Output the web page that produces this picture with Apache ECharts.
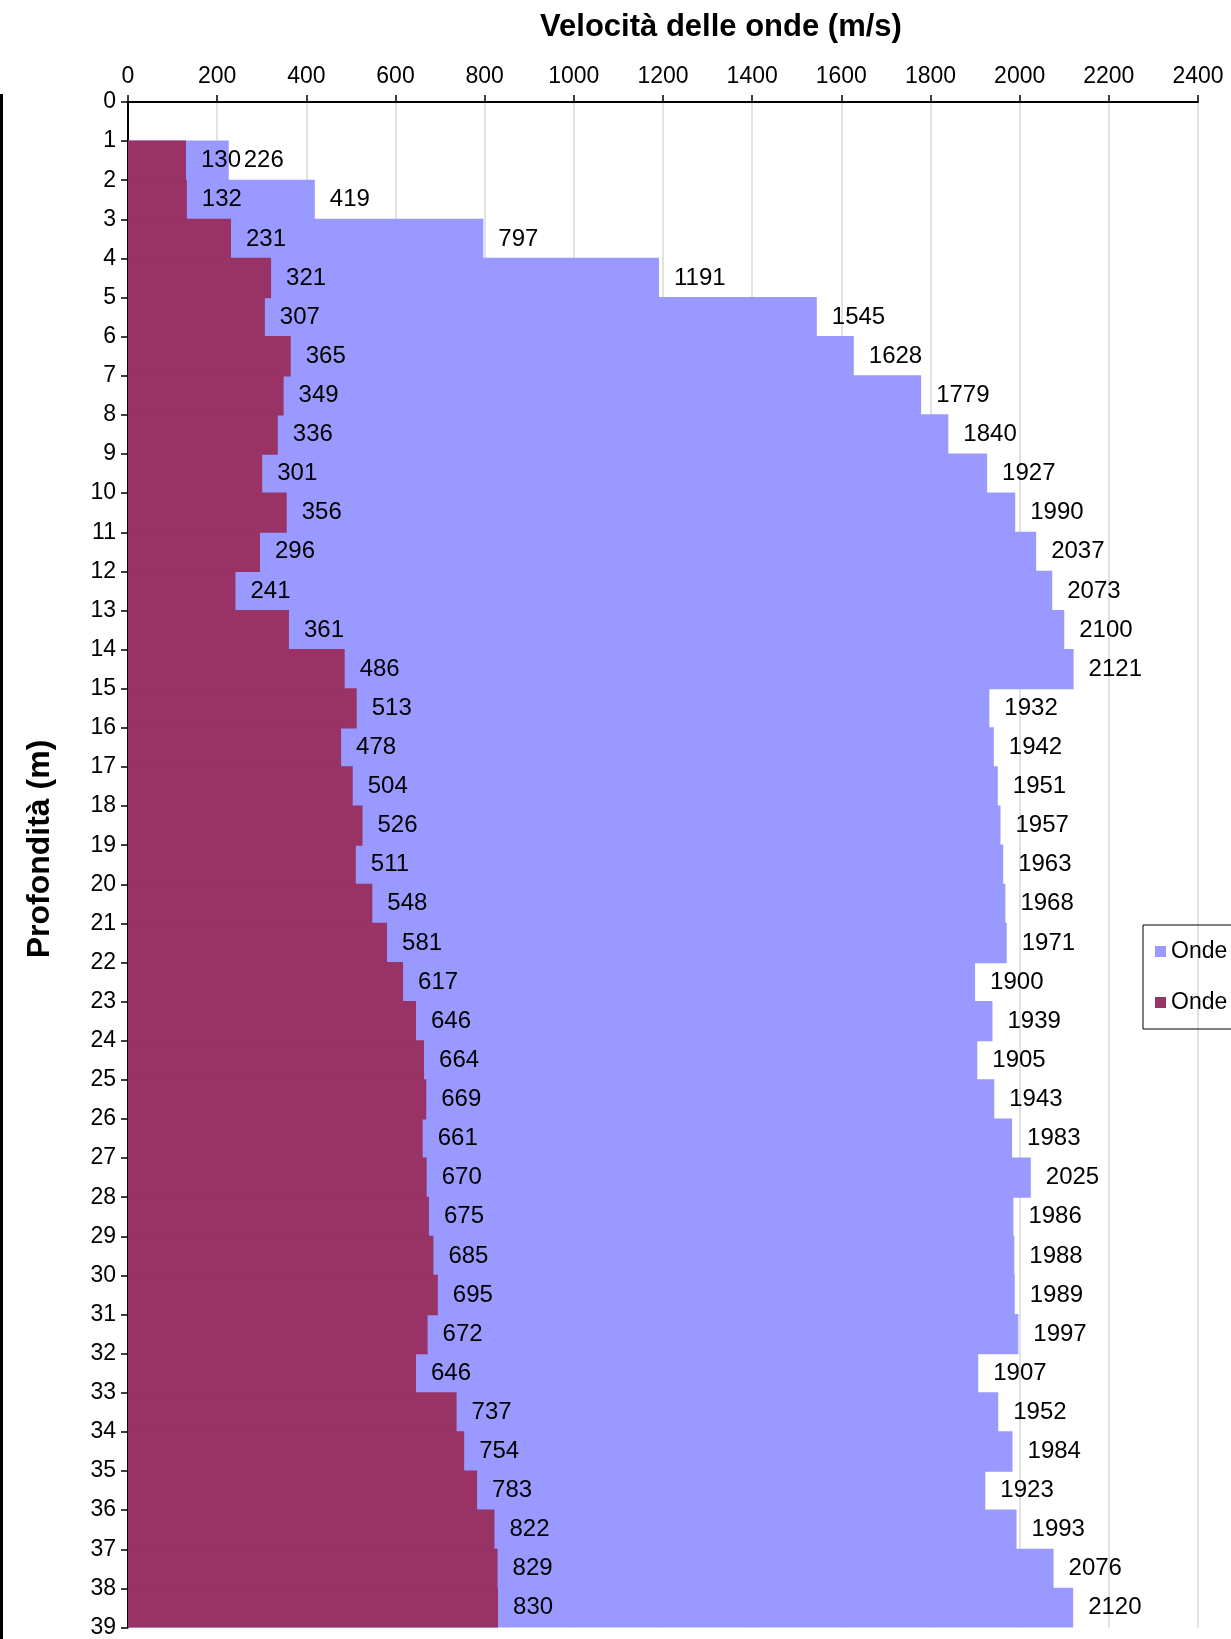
<!DOCTYPE html>
<html>
<head>
<meta charset="utf-8">
<script src="https://cdn.jsdelivr.net/npm/echarts@6/dist/echarts.min.js"></script>
<style>
  html, body { margin: 0; padding: 0; background: #fff; }
  #chart { width: 1231px; height: 1639px; }
</style>
</head>
<body>
<div id="chart"></div>
<script>
// Depth of the top of each 1 m layer (m)
const depthRows = [1, 2, 3, 4, 5, 6, 7, 8, 9, 10, 11, 12, 13, 14, 15, 16, 17, 18, 19,
  20, 21, 22, 23, 24, 25, 26, 27, 28, 29, 30, 31, 32, 33, 34, 35, 36, 37, 38];

// P-wave velocity per layer (m/s)
const ondeP = [226, 419, 797, 1191, 1545, 1628, 1779, 1840, 1927, 1990, 2037, 2073, 2100, 2121,
  1932, 1942, 1951, 1957, 1963, 1968, 1971, 1900, 1939, 1905, 1943, 1983, 2025, 1986, 1988,
  1989, 1997, 1907, 1952, 1984, 1923, 1993, 2076, 2120];

// S-wave velocity per layer (m/s)
const ondeS = [130, 132, 231, 321, 307, 365, 349, 336, 301, 356, 296, 241, 361, 486,
  513, 478, 504, 526, 511, 548, 581, 617, 646, 664, 669, 661, 670, 675, 685,
  695, 672, 646, 737, 754, 783, 822, 829, 830];

const seriesNames = ['Onde P', 'Onde S'];
const depthMax = 39;
const velocityMax = 2400;
const velocityStep = 200;

const FONT = "'Liberation Sans', Arial, sans-serif";

// layer 0–1 carries no measurement
const bands = ['0'].concat(depthRows.map(String));
const pData = [null].concat(ondeP);
const sData = [null].concat(ondeS);

const labelStyle = {
  show: true,
  position: 'right',
  distance: 15,
  color: '#000',
  fontFamily: FONT,
  fontSize: 24
};

const chart = echarts.init(document.getElementById('chart'), null, { renderer: 'canvas' });

chart.setOption({
  backgroundColor: '#ffffff',
  animation: false,
  title: {
    text: 'Velocità delle onde (m/s)',
    left: 716,
    top: 7,
    textAlign: 'center',
    textStyle: { fontFamily: FONT, fontSize: 31, fontWeight: 'bold', color: '#000' }
  },
  legend: {
    orient: 'vertical',
    left: 1143,
    top: 925,
    data: seriesNames,
    icon: 'rect',
    itemWidth: 11,
    itemHeight: 11,
    itemGap: 28,
    padding: [15, 12, 15, 12],
    borderColor: '#000',
    borderWidth: 1,
    textStyle: { fontFamily: FONT, fontSize: 23, color: '#000' }
  },
  grid: { left: 128, right: 33, top: 102, bottom: 11, containLabel: false },
  xAxis: {
    type: 'value',
    position: 'top',
    min: 0,
    max: velocityMax,
    interval: velocityStep,
    axisLine: { show: true, lineStyle: { color: '#000', width: 2 } },
    axisTick: { show: true, inside: false, length: 7, lineStyle: { color: '#000', width: 1.5 } },
    axisLabel: {
      margin: 14, color: '#000', fontFamily: FONT, fontSize: 23,
      formatter: function (v) { return String(v); }
    },
    splitLine: { show: true, lineStyle: { color: '#e2e2e2', width: 2 } }
  },
  yAxis: [
    {
      type: 'value',
      min: 0,
      max: depthMax,
      interval: 1,
      inverse: true,
      position: 'left',
      axisLine: { show: true, onZero: false, lineStyle: { color: '#000', width: 2 } },
      axisTick: { show: true, length: 7, lineStyle: { color: '#000', width: 1.5 } },
      axisLabel: { margin: 12, color: '#000', fontFamily: FONT, fontSize: 23 },
      splitLine: { show: false }
    },
    {
      type: 'category',
      data: bands,
      inverse: true,
      show: false,
      boundaryGap: true
    }
  ],
  series: [
    {
      name: seriesNames[0],
      type: 'bar',
      yAxisIndex: 1,
      data: pData,
      barWidth: '103%',   // slight overlap so adjacent layers join without seams
      barGap: '-100%',
      barCategoryGap: 0,
      itemStyle: { color: '#9999ff' },
      label: labelStyle
    },
    {
      name: seriesNames[1],
      type: 'bar',
      yAxisIndex: 1,
      data: sData,
      barWidth: '103%',
      barGap: '-100%',
      barCategoryGap: 0,
      itemStyle: { color: '#993366' },
      label: labelStyle
    }
  ],
  graphic: [
    {
      type: 'text',
      x: 40,
      y: 849,
      rotation: Math.PI / 2,
      style: {
        text: 'Profondità (m)',
        fontFamily: FONT,
        fontSize: 32,
        fontWeight: 'bold',
        fill: '#000',
        align: 'center',
        verticalAlign: 'middle'
      }
    },
    {
      type: 'rect',
      shape: { x: 0, y: 94, width: 3, height: 1545 },
      style: { fill: '#000' },
      silent: true
    }
  ]
});
</script>
</body>
</html>
